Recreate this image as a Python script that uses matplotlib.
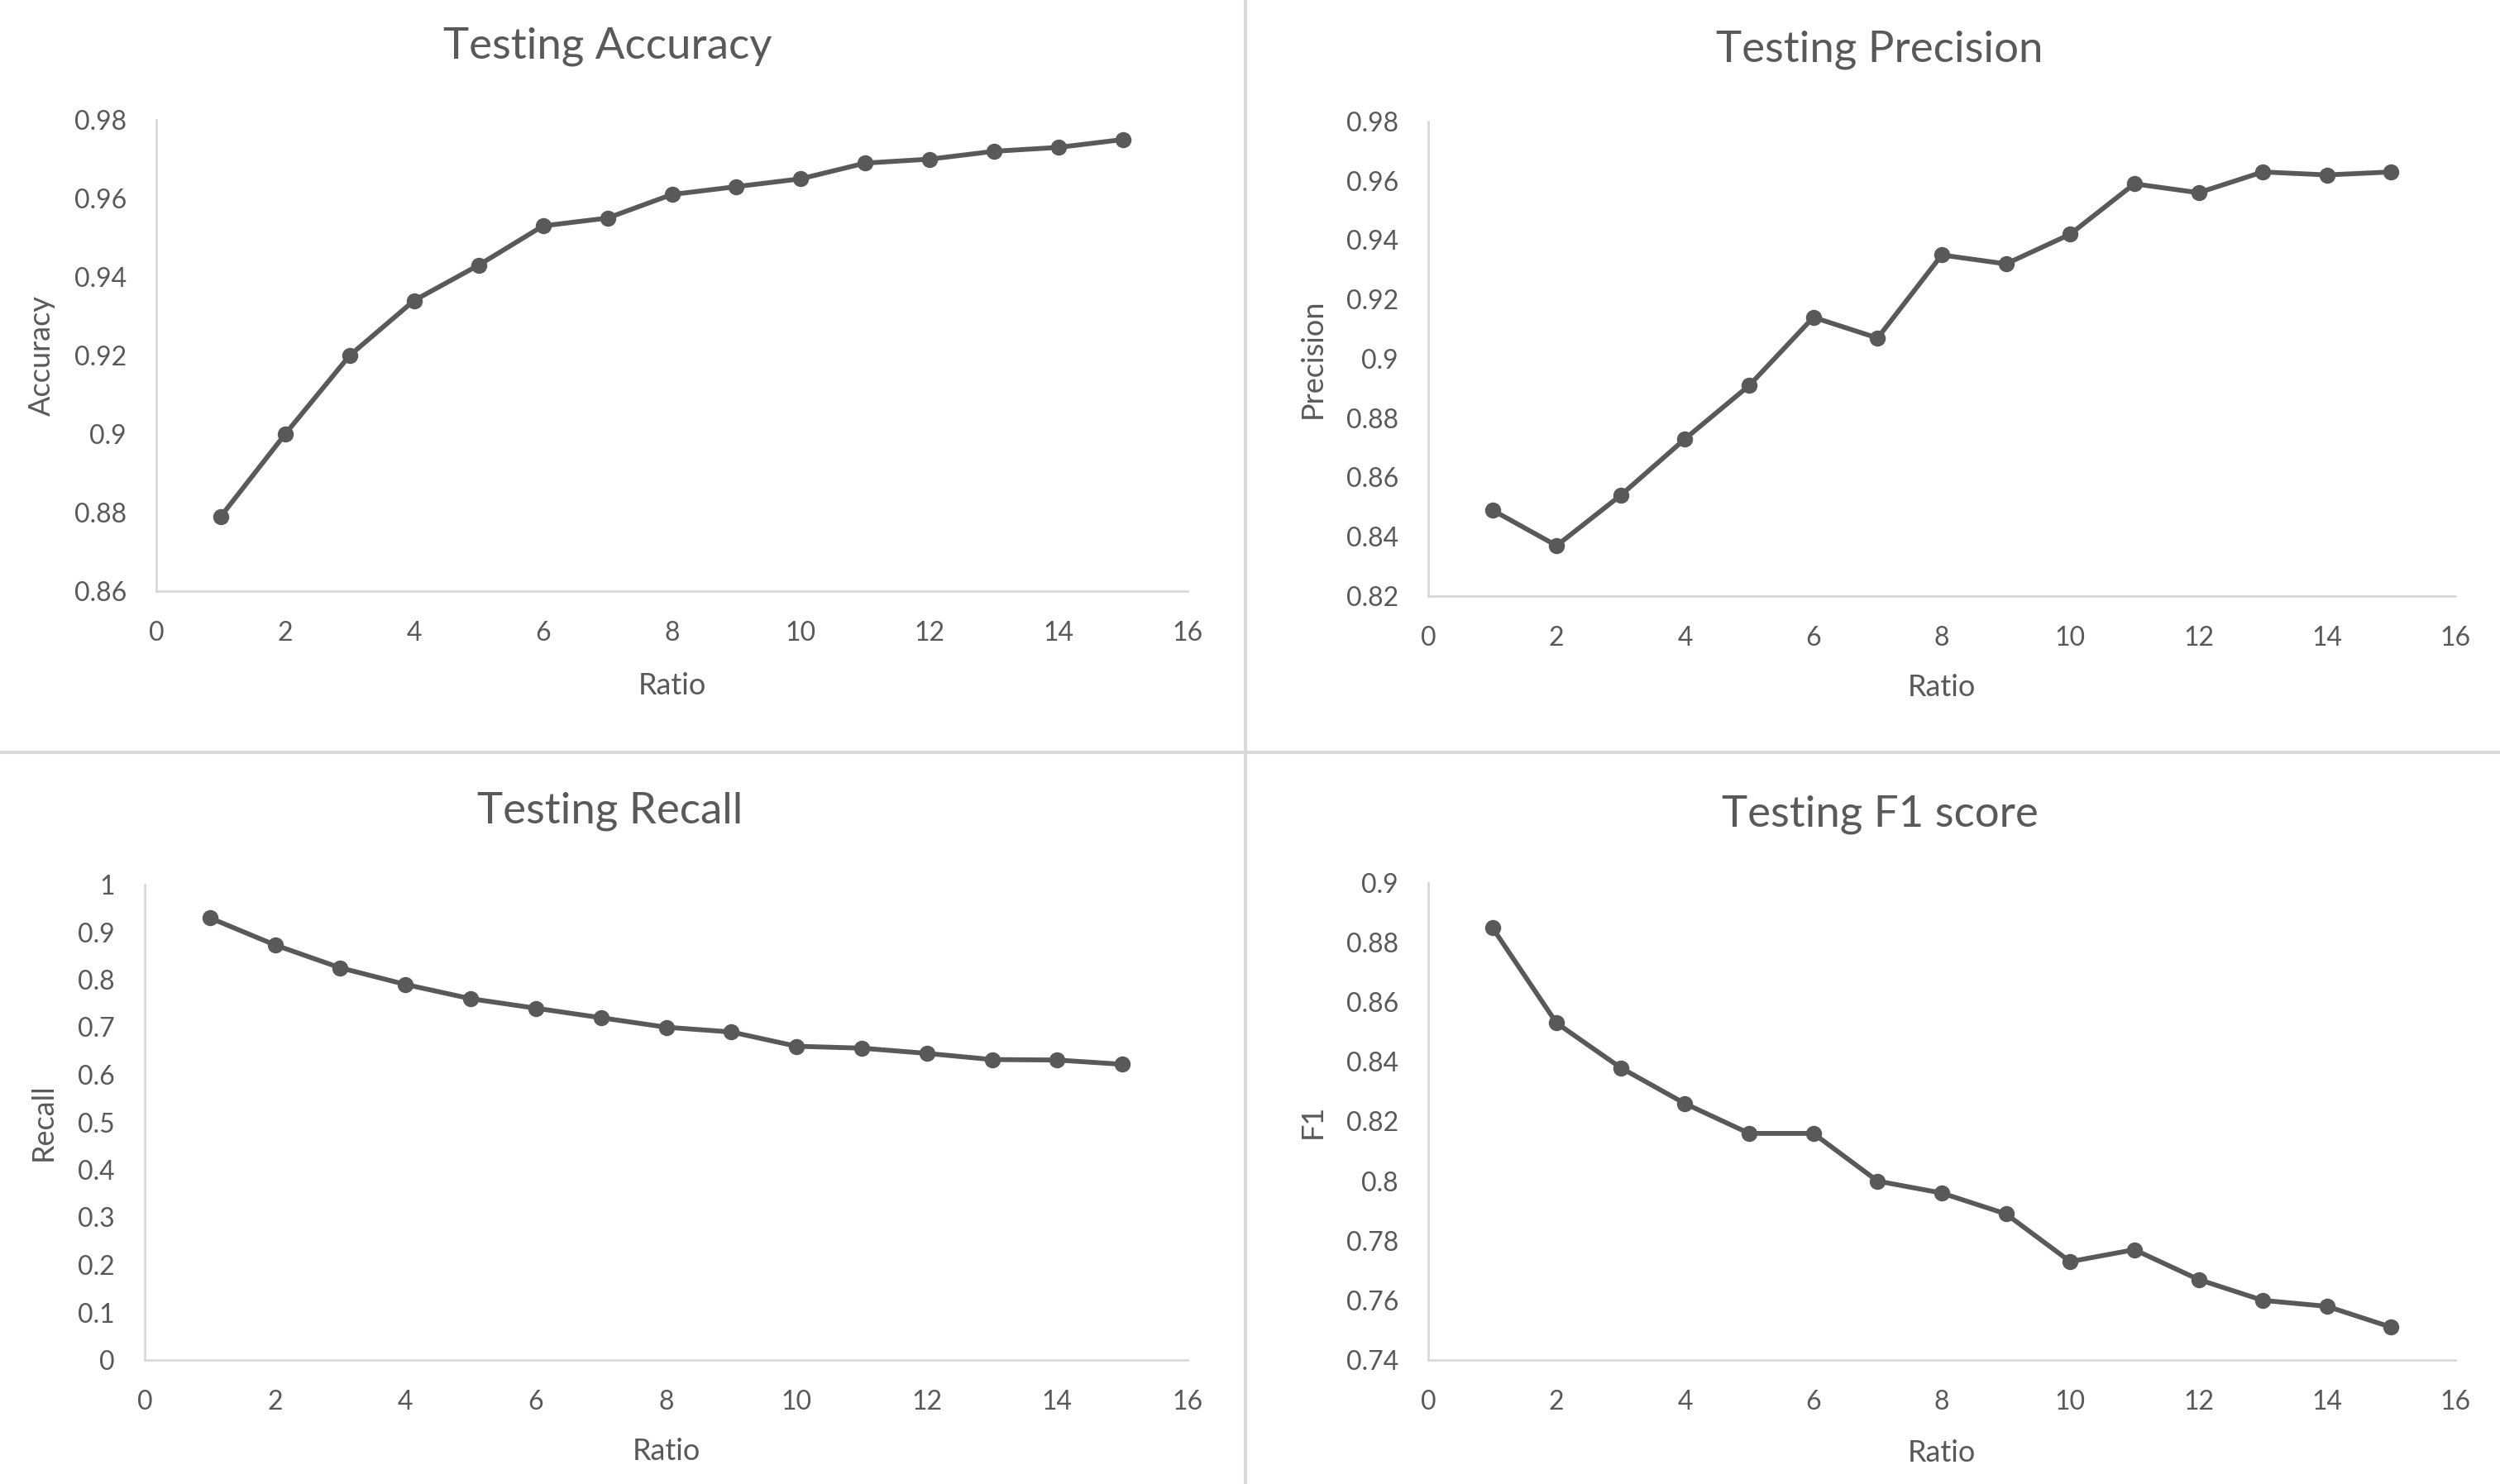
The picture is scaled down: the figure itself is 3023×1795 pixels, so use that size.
import matplotlib
matplotlib.use('Agg')
import matplotlib.pyplot as plt
from matplotlib.lines import Line2D
from matplotlib.ticker import FuncFormatter, MultipleLocator

ratio = list(range(1, 16))

accuracy = [0.879, 0.900, 0.920, 0.934, 0.943, 0.953, 0.955, 0.961,
            0.963, 0.965, 0.969, 0.970, 0.972, 0.973, 0.975]
precision = [0.849, 0.837, 0.854, 0.873, 0.891, 0.914, 0.907, 0.935,
             0.932, 0.942, 0.959, 0.956, 0.963, 0.962, 0.963]
recall = [0.930, 0.873, 0.825, 0.790, 0.760, 0.740, 0.720, 0.700,
          0.690, 0.660, 0.656, 0.645, 0.632, 0.631, 0.622]
f1 = [0.885, 0.853, 0.838, 0.826, 0.816, 0.816, 0.800, 0.796,
      0.789, 0.773, 0.777, 0.767, 0.760, 0.758, 0.751]

titles = ['Testing Accuracy', 'Testing Precision', 'Testing Recall', 'Testing F1 score']
ylabels = ['Accuracy', 'Precision', 'Recall', 'F1']
series = [accuracy, precision, recall, f1]
ylims = [(0.86, 0.98), (0.82, 0.98), (0.0, 1.0), (0.74, 0.90)]
ysteps = [0.02, 0.02, 0.1, 0.02]

W, H = 3023, 1795
DPI = 100
GREY_TEXT = '#595959'
GREY_LINE = '#d9d9d9'

plt.rcParams['font.family'] = ['Lato', 'DejaVu Sans']

# pixel boxes: x0, x1, y_top, y_bottom (from top of image)
boxes = [(189, 1436, 145, 715),
         (1727, 2969, 147, 721),
         (175, 1436, 1070, 1645),
         (1727, 2969, 1068, 1645)]
title_pos = [(735, 56), (2273, 60), (738, 981), (2273, 985)]
ylabel_x = [50, 1587, 52, 1587]
xlabel_y = [829, 831, 1755, 1758]

fig = plt.figure(figsize=(W / DPI, H / DPI), dpi=DPI)
fig.patch.set_facecolor('white')

# panel separators
fig.add_artist(Line2D([1506 / W, 1506 / W], [0, 1], color=GREY_LINE, lw=3))
fig.add_artist(Line2D([0, 1], [1 - 910 / H, 1 - 910 / H], color=GREY_LINE, lw=3))

fmt = FuncFormatter(lambda v, p: '{:g}'.format(round(v, 4)))

for i in range(4):
    x0, x1, yt, yb = boxes[i]
    ax = fig.add_axes([x0 / W, 1 - yb / H, (x1 - x0) / W, (yb - yt) / H])
    ax.plot(ratio, series[i], color=GREY_TEXT, lw=4.2, marker='o',
            markersize=13, solid_joinstyle='round', clip_on=False)
    ax.set_xlim(0, 16)
    ax.set_ylim(*ylims[i])
    ax.xaxis.set_major_locator(MultipleLocator(2))
    ax.yaxis.set_major_locator(MultipleLocator(ysteps[i]))
    ax.yaxis.set_major_formatter(fmt)
    for s in ['top', 'right']:
        ax.spines[s].set_visible(False)
    for s in ['left', 'bottom']:
        ax.spines[s].set_color(GREY_LINE)
        ax.spines[s].set_linewidth(2)
    ax.tick_params(length=0, labelsize=23, labelcolor=GREY_TEXT, pad=26)

    tx, ty = title_pos[i]
    fig.text(tx / W, 1 - ty / H, titles[i], fontsize=38, color=GREY_TEXT,
             ha='center', va='center')
    fig.text(ylabel_x[i] / W, 1 - ((yt + yb) / 2) / H, ylabels[i], fontsize=26,
             color=GREY_TEXT, rotation=90, ha='center', va='center')
    fig.text(((x0 + x1) / 2) / W, 1 - xlabel_y[i] / H, 'Ratio', fontsize=26,
             color=GREY_TEXT, ha='center', va='center')

fig.savefig('out.png', dpi=DPI)
